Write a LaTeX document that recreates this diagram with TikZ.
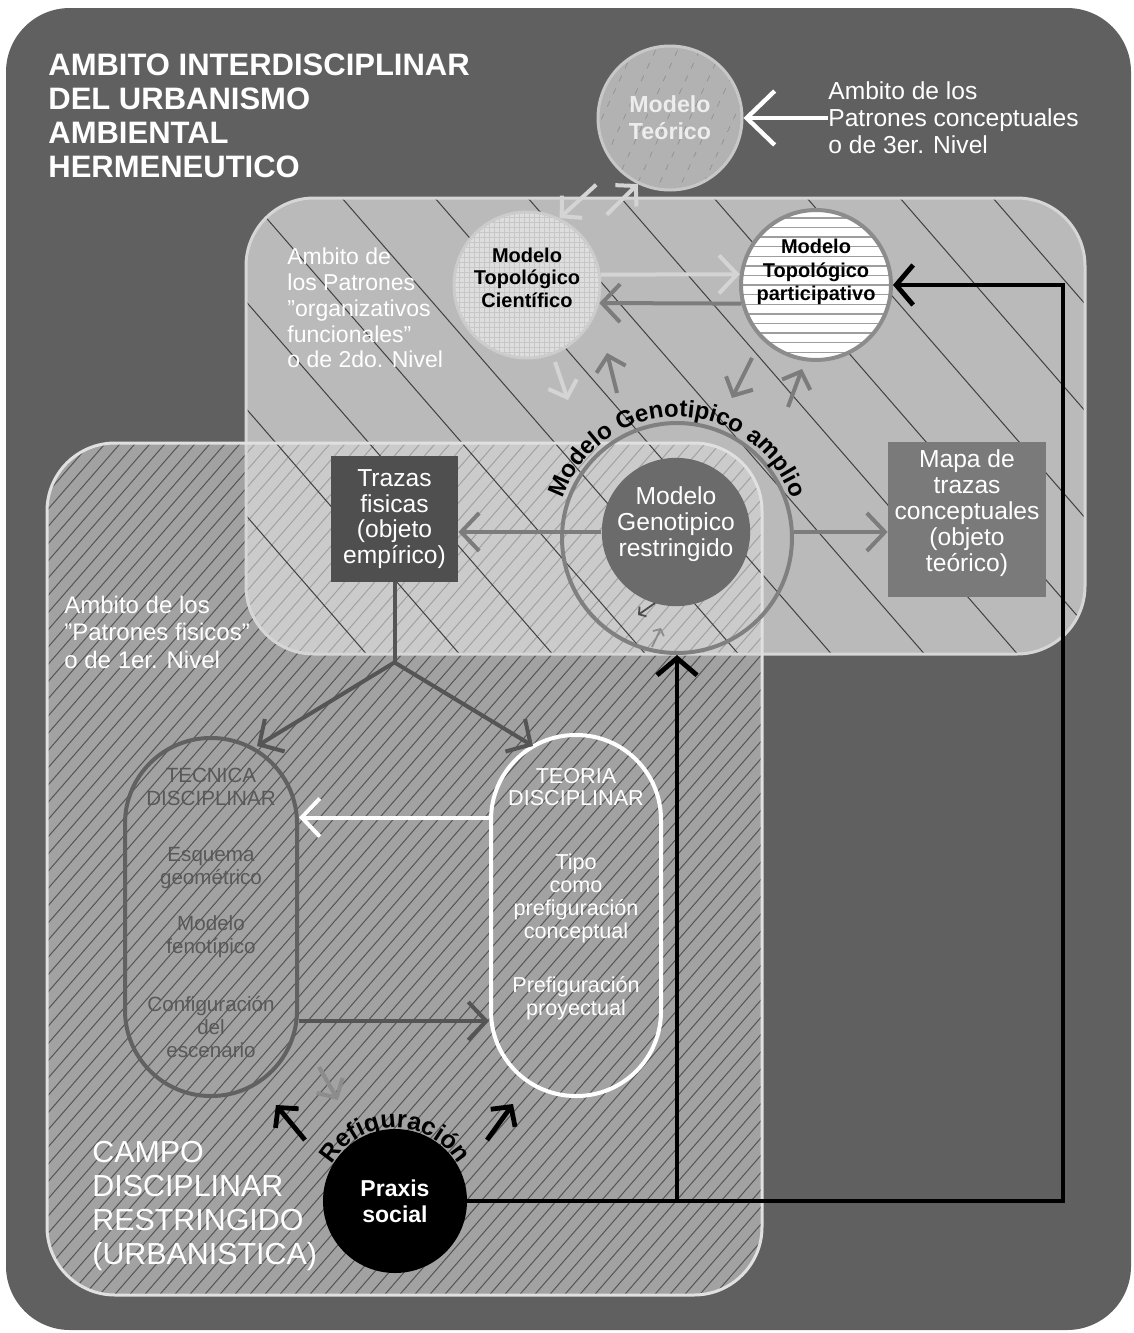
\documentclass[tikz,border=0pt]{standalone}
\usepackage{fontspec}
\setmainfont{Liberation Sans}
\usepackage{tikz}
\usetikzlibrary{positioning}
\usetikzlibrary{calc}
\usetikzlibrary{arrows.meta}
\usetikzlibrary{decorations.text}

\definecolor{bgdark}{HTML}{606060}
\definecolor{zonetwo}{HTML}{BABABA}
\definecolor{zoneone}{HTML}{A2A2A2}
\definecolor{hatchdark}{HTML}{555555}
\definecolor{arrowpale}{HTML}{D4D4D4}
\definecolor{arrowmid}{HTML}{7C7C7C}
\definecolor{arrowdark}{HTML}{555555}
\definecolor{tecnicagray}{HTML}{595959}

\newcommand{\txtsize}[2]{\fontsize{#1}{#2}\selectfont}

\tikzset{
  zonebox/.style={rounded corners=34pt},
  finehatch/.style={hatchdark, line width=0.5pt},
  widehatch/.style={black!75, line width=0.5pt},
  zonetext/.style={text=white, align=left, inner sep=0pt, anchor=west},
  modelnode/.style={circle, inner sep=0pt, align=center},
  objbox/.style={rectangle, inner sep=0pt, align=center, text=white},
  pillnode/.style={rectangle, line width=2pt},
  pilltext/.style={inner sep=0pt, align=center},
  barbline/.style={line width=2pt, -{Straight Barb[length=9pt,width=19pt]}},
  shortbarb/.style={line width=2pt, -{Straight Barb[length=7pt,width=15pt]}},
  tinybarb/.style={line width=0.9pt, -{Straight Barb[length=2.5pt,width=6pt]}},
  blackline/.style={black, line width=2.4pt, -{Straight Barb[length=8.5pt,width=20pt]}}
}

\begin{document}
\begin{tikzpicture}[x=0.5pt,y=-0.5pt]
\useasboundingbox (0,0) rectangle (1134,1333);
\fill[white] (0,0) rectangle (1134,1333);
\fill[bgdark, rounded corners=32pt] (6,8) rectangle (1131,1330);

% zones of the three levels
\fill[zonetwo, zonebox] (246,198) rectangle (1085,654);
\begin{scope}
  \clip[zonebox] (47,443) rectangle (762,1295);
  \fill[zoneone] (47,443) rectangle (762,1295);
  \foreach \x in {-700,-685,...,760}
    \draw[finehatch] (\x,1300) -- ++(750,-862);
  \clip[zonebox] (246,198) rectangle (1085,654);
  \fill[white, opacity=0.45] (47,443) rectangle (762,1295);
\end{scope}
\begin{scope}
  \clip[zonebox] (246,198) rectangle (1085,654);
  \foreach \a in {-210,-117,...,1092}
    \draw[widehatch] (\a-13,190) -- (\a+400,665);
\end{scope}
\draw[zonetwo!60!white, line width=1.5pt, zonebox] (246,198) rectangle (1085,654);
\draw[white!88!black, line width=1.5pt, zonebox] (47,443) rectangle (762,1295);

% captions
\node[zonetext, font=\txtsize{15.5pt}{17pt}\bfseries] (ambitoInter) at (48,116)
  {AMBITO INTERDISCIPLINAR\\DEL URBANISMO\\AMBIENTAL\\HERMENEUTICO};
\node[zonetext, font=\txtsize{12.3pt}{13.5pt}] (ambitoTres) at (828,118)
  {Ambito de los\\Patrones conceptuales\\o de 3er. Nivel};
\node[zonetext, font=\txtsize{11.5pt}{12.9pt}] (ambitoDos) at (287,308)
  {Ambito de\\los Patrones\\"organizativos\\funcionales"\\o de 2do. Nivel};
\node[zonetext, font=\txtsize{12pt}{13.75pt}] (ambitoUno) at (64,632)
  {Ambito de los\\"Patrones fisicos"\\o de 1er. Nivel};
\node[zonetext, font=\txtsize{15.2pt}{17pt}] (campo) at (92,1206)
  {CAMPO\\DISCIPLINAR\\RESTRINGIDO\\(URBANISTICA)};

% models
\node[modelnode, minimum size=72pt, fill=black!30, draw=black!22, line width=1.5pt,
  text=white!93!black, font=\txtsize{11.6pt}{13.5pt}\bfseries,
  path picture={\foreach \k in {-6,...,6}
    \draw[black!45, dash pattern=on 3pt off 4pt, line width=0.3pt]
      ([xshift=\k*11pt, yshift=-45pt]path picture bounding box.center) -- ++(65:100pt);}]
  (teorico) at (670,118) {Modelo\\Teórico};
\node[modelnode, minimum size=73pt, fill=black!13, draw=black!20, line width=1.5pt,
  font=\txtsize{10pt}{11.3pt}\bfseries, text depth=7.5pt,
  path picture={\draw[black!22, line width=0.25pt, step=2.5pt]
    (path picture bounding box.south west) grid (path picture bounding box.north east);}]
  (cientifico) at (527,285) {Modelo\\Topológico\\Científico};
\node[modelnode, minimum size=71pt, fill=white, draw=black!45, line width=2pt,
  font=\txtsize{10pt}{11.75pt}\bfseries, text depth=15pt,
  path picture={\foreach \k in {-15,...,15}
    \draw[black!38, line width=0.7pt] ([yshift=\k*4.8pt]path picture bounding box.west) -- ++(80pt,0);}]
  (participativo) at (816,285) {Modelo\\Topológico\\participativo};
\node[modelnode, minimum size=115pt, draw=black!50, line width=2pt] (ring) at (677,538) {};
\node[modelnode, minimum size=72.5pt, fill=black!58, text=white,
  font=\txtsize{12.3pt}{13pt}, text depth=10.6pt] (inner) at (676,532)
  {Modelo\\Genotipico\\restringido};
\node[objbox, fill=black!69, minimum width=63.5pt, minimum height=63pt,
  font=\txtsize{12.3pt}{12.8pt}] (trazas) at (394.5,519)
  {Trazas\\fisicas\\(objeto\\empírico)};
\node[objbox, fill=black!52, minimum width=79pt, minimum height=77.5pt,
  font=\txtsize{12.3pt}{12.9pt}, text depth=9pt] (mapa) at (967,519.5)
  {Mapa de\\trazas\\conceptuales\\(objeto\\teórico)};

% disciplinary field
\node[pillnode, draw=black!62, minimum width=86pt, minimum height=179pt,
  rounded corners=42.8pt] (tecnica) at (211,917) {};
\node[pillnode, draw=white, minimum width=85pt, minimum height=180.5pt,
  rounded corners=42.3pt] (teoria) at (576,915.5) {};
\node[pilltext, text=tecnicagray, font=\txtsize{10.3pt}{11.5pt}] (tecnicaText) at (211,913)
  {TECNICA\\DISCIPLINAR\\[16.5pt]Esquema\\geométrico\\[11.5pt]Modelo\\fenotípico\\[17.5pt]Configuración\\del\\escenario};
\node[pilltext, text=white, font=\txtsize{10.8pt}{11.4pt}] (teoriaText) at (576,894)
  {TEORIA\\DISCIPLINAR\\[20.5pt]Tipo\\como\\prefiguración\\conceptual\\[16pt]Prefiguración\\proyectual};
\node[modelnode, minimum size=72pt, fill=black, text=white,
  font=\txtsize{11.5pt}{13pt}\bfseries] (praxis) at (395,1201) {Praxis\\social};

% free ends of the short arrows
\coordinate (sciOut) at (555,362);
\coordinate (sciOutTip) at (568,400);
\coordinate (sciIn) at (617,393);
\coordinate (sciInTip) at (607,353);
\coordinate (partOut) at (752,358);
\coordinate (partOutTip) at (732,398);
\coordinate (partIn) at (788,407);
\coordinate (partInTip) at (802,369);
\coordinate (ringOut) at (655,603);
\coordinate (ringOutTip) at (638,615);
\coordinate (ringIn) at (652,647);
\coordinate (ringInTip) at (661,628);
\coordinate (refigA) at (305,1140);
\coordinate (refigATip) at (276,1105);
\coordinate (refigB) at (487,1140);
\coordinate (refigBTip) at (513,1104);
\coordinate (tecBack) at (319,1067);
\coordinate (tecBackTip) at (338,1100);

% connectors
\draw[white, line width=2.2pt, -{Straight Barb[length=14pt,width=27pt]}]
  (ambitoTres.west) -- (teorico.east);
\draw[arrowpale, shortbarb, shorten <=13pt] (teorico.222) -- (cientifico.64);
\draw[arrowpale, shortbarb, shorten <=16pt] (cientifico.40) -- (teorico.244);
\draw[arrowpale, barbline] (cientifico.8) -- (participativo.172);
\draw[arrowmid, barbline] (participativo.194) -- (cientifico.346);
\draw[arrowpale, shortbarb] (sciOut) -- (sciOutTip);
\draw[arrowmid, shortbarb] (sciIn) -- (sciInTip);
\draw[arrowmid, shortbarb] (partOut) -- (partOutTip);
\draw[arrowmid, shortbarb] (partIn) -- (partInTip);
\draw[black!70, tinybarb] (ringOut) -- (ringOutTip);
\draw[black!45, tinybarb] (ringIn) -- (ringInTip);

\draw[arrowmid, barbline] (inner.west) -- (inner.west -| trazas.east);
\draw[arrowmid, barbline] (inner.west -| ring.east) -- (inner.west -| mapa.west);

\draw[arrowdark, line width=2pt] (trazas.south) -- ++(0,80) coordinate (split);
\draw[arrowdark, barbline] (split) -- ([shift={(46,10)}]tecnica.north);
\draw[arrowdark, barbline] (split) -- ([shift={(-43,13)}]teoria.north);
\coordinate (teoIn) at ([shift={(0,-98)}]teoria.west);
\coordinate (tecOut) at ([shift={(0,104)}]tecnica.east);
\draw[white, barbline] (teoIn) -- (teoIn -| tecnica.east);
\draw[arrowdark, barbline] (tecOut) -- (tecOut -| teoria.west);

\draw[black!45, shortbarb] (tecBack) -- (tecBackTip);
\draw[black, shortbarb, line width=2.4pt] (refigA) -- (refigATip);
\draw[black, shortbarb, line width=2.4pt] (refigB) -- (refigBTip);

\coordinate (rightTurn) at (1063,1201);
\coordinate (hub) at (praxis.east -| ring.south);
\draw[blackline] (praxis.east) -- (rightTurn) |- (participativo.east);
\draw[blackline] (hub) -- (ring.south);

% curved captions
\path[decorate, decoration={text along path, text align=center,
  text={|\txtsize{12pt}{12pt}\bfseries|Modelo Genotipico amplio}}]
  (ring.center) ++(195:121) arc[start angle=195, end angle=345, radius=121];
\path[decorate, decoration={text along path, text align=center,
  text={|\txtsize{12.5pt}{12.5pt}\bfseries|Refiguración}}]
  (praxis.center) ++(200:73) arc[start angle=200, end angle=340, radius=73];
\end{tikzpicture}
\end{document}
